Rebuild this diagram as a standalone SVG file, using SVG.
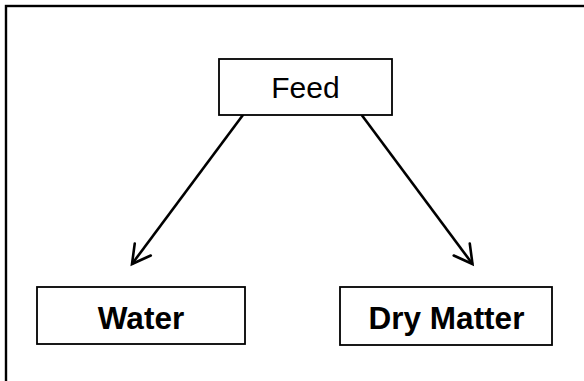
<svg xmlns="http://www.w3.org/2000/svg" width="584" height="381" viewBox="0 0 584 381">
<style>
.box{fill:#fff;stroke:#000;stroke-width:1.8}
.lbl{font-family:"Liberation Sans",Arial,sans-serif;fill:#000;text-anchor:middle}
.b{font-weight:bold;font-size:31.5px}
.r{font-size:30px}
.conn{stroke:#000;stroke-width:2.6;fill:none}
</style>
<defs>
<marker id="arr" markerUnits="userSpaceOnUse" markerWidth="30" markerHeight="30" viewBox="-24 -15 30 30" refX="0" refY="0" orient="auto">
<path d="M-18,-10 L0,0 L-18,10" fill="none" stroke="#000" stroke-width="2.6" stroke-linecap="round" stroke-linejoin="miter"/>
</marker>
</defs>
<rect width="584" height="381" fill="#fff"/>
<rect x="6" y="6" width="600" height="400" fill="none" stroke="#000" stroke-width="2.4"/>
<g id="connectors">
<line class="conn" x1="243.3" y1="114.5" x2="132" y2="264" marker-end="url(#arr)"/>
<line class="conn" x1="361.7" y1="115" x2="472.5" y2="264" marker-end="url(#arr)"/>
</g>
<g id="feed">
<rect class="box" x="219" y="59" width="173" height="56" stroke-width="1.3"/>
<text class="lbl r" x="305.5" y="98">Feed</text>
</g>
<g id="water">
<rect class="box" x="37" y="287" width="208" height="57"/>
<text class="lbl b" x="141" y="328.5">Water</text>
</g>
<g id="dry-matter">
<rect class="box" x="340" y="287" width="212" height="58"/>
<text class="lbl b" x="446.5" y="329">Dry Matter</text>
</g>
</svg>
